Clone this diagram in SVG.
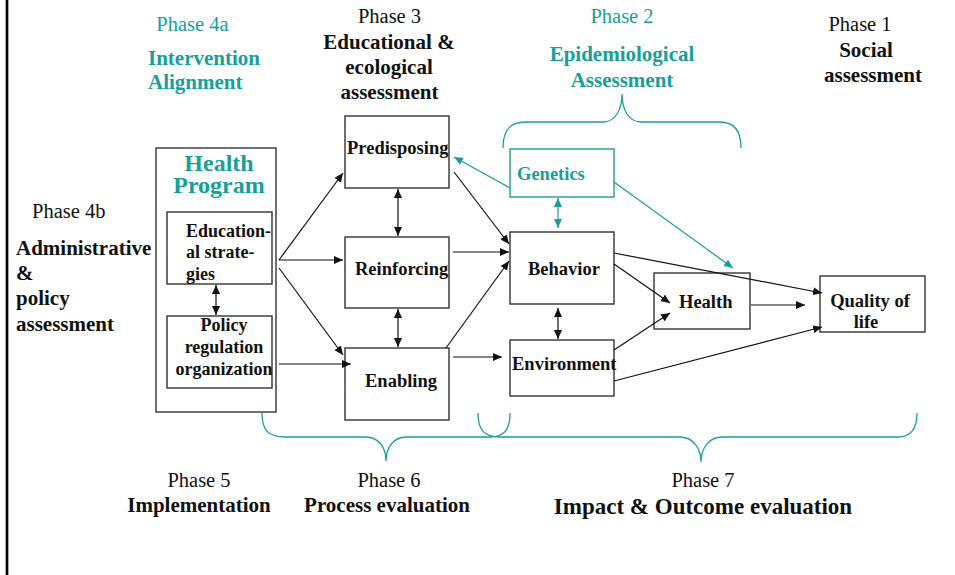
<svg xmlns="http://www.w3.org/2000/svg" width="955" height="575" viewBox="0 0 955 575">
<defs>
<style>
.t{font-family:"Liberation Serif","Times New Roman",serif;fill:#111}
.b{font-weight:bold}
.tl{fill:#17a09b}
.ph{font-size:20.5px}
.hd{font-size:21px;font-weight:bold}
.bx{font-size:18.5px;font-weight:bold}
.box{fill:#fff;stroke:#333;stroke-width:1.4}
.tbox{fill:#fff;stroke:#17a09b;stroke-width:1.4}
.e{stroke:#111;stroke-width:1.2;fill:none;marker-end:url(#ah)}
.d{stroke:#111;stroke-width:1.2;fill:none;marker-start:url(#ah);marker-end:url(#ah)}
.et{stroke:#17a09b;stroke-width:1.2;fill:none;marker-end:url(#aht)}
.dt{stroke:#17a09b;stroke-width:1.2;fill:none;marker-start:url(#aht);marker-end:url(#aht)}
.br{stroke:#17a09b;stroke-width:1.3;fill:none}
</style>
<marker id="ah" markerUnits="userSpaceOnUse" markerWidth="10" markerHeight="8" refX="9" refY="4" orient="auto-start-reverse" viewBox="0 0 10 8"><path d="M0,0 L9,4 L0,8 z" fill="#111"/></marker>
<marker id="aht" markerUnits="userSpaceOnUse" markerWidth="10" markerHeight="8" refX="9" refY="4" orient="auto-start-reverse" viewBox="0 0 10 8"><path d="M0,0 L9,4 L0,8 z" fill="#17a09b"/></marker>
</defs>
<rect width="955" height="575" fill="#fff"/>
<line x1="7" y1="0" x2="7" y2="575" stroke="#000" stroke-width="2.7"/>

<g id="labels">
<text class="t tl ph" x="192.5" y="31" text-anchor="middle">Phase 4a</text>
<text class="t tl hd" x="148" y="65">Intervention</text>
<text class="t tl hd" x="148" y="89">Alignment</text>
<text class="t ph" x="389.5" y="23" text-anchor="middle">Phase 3</text>
<text class="t hd" x="389" y="49" text-anchor="middle">Educational &amp;</text>
<text class="t hd" x="389" y="74" text-anchor="middle">ecological</text>
<text class="t hd" x="389.5" y="99" text-anchor="middle">assessment</text>
<text class="t tl ph" x="622" y="23" text-anchor="middle">Phase 2</text>
<text class="t tl hd" x="622" y="61" text-anchor="middle">Epidemiological</text>
<text class="t tl hd" x="622" y="87" text-anchor="middle">Assessment</text>
<text class="t ph" x="860" y="31" text-anchor="middle">Phase 1</text>
<text class="t hd" x="866" y="57" text-anchor="middle">Social</text>
<text class="t hd" x="873" y="82" text-anchor="middle">assessment</text>
<text class="t ph" x="32" y="218">Phase 4b</text>
<text class="t hd" x="16" y="255">Administrative</text>
<text class="t hd" x="16" y="280">&amp;</text>
<text class="t hd" x="16" y="305">policy</text>
<text class="t hd" x="16" y="331">assessment</text>
<text class="t ph" x="199" y="487" text-anchor="middle">Phase 5</text>
<text class="t hd" x="199" y="512" text-anchor="middle">Implementation</text>
<text class="t ph" x="389" y="487" text-anchor="middle">Phase 6</text>
<text class="t hd" x="387" y="512" text-anchor="middle">Process evaluation</text>
<text class="t ph" x="703" y="487" text-anchor="middle">Phase 7</text>
<text class="t b" style="font-size:23px" x="703" y="514" text-anchor="middle">Impact &amp; Outcome evaluation</text>
</g>

<g id="braces">
<path class="br" d="M503,148 C503,130 510,122 525,122 L603,122 C615,122 622,110 622,94 C622,110 629,122 641,122 L720,122 C734,122 741,130 741,148"/>
<path class="br" d="M262,413 C262,430 268,437 285,437 L366,437 C378,437 386,447 386,461 C386,447 394,437 406,437 L490,437 C504,437 510,430 510,413"/>
<path class="br" d="M478,413 C478,430 484,437 500,437 L680,437 C692,437 701,447 701,462 C701,447 710,437 722,437 L898,437 C912,437 917,428 917,413"/>
</g>

<g id="health-program">
<rect class="box" x="156" y="148" width="120" height="264"/>
<text class="t tl b" style="font-size:24px" x="219" y="171" text-anchor="middle">Health</text>
<text class="t tl b" style="font-size:24px" x="219" y="193" text-anchor="middle">Program</text>
</g>
<g id="educational-strategies">
<rect class="box" x="167" y="212" width="105" height="72"/>
<text class="t b" style="font-size:18px" x="186" y="237">Education-</text>
<text class="t b" style="font-size:18px" x="186" y="258">al strate-</text>
<text class="t b" style="font-size:18px" x="186" y="280">gies</text>
</g>
<g id="policy">
<rect class="box" x="167" y="316" width="105" height="72"/>
<text class="t b" style="font-size:18px" x="224" y="331" text-anchor="middle">Policy</text>
<text class="t b" style="font-size:18px" x="224" y="353" text-anchor="middle">regulation</text>
<text class="t b" style="font-size:18px" x="224" y="375" text-anchor="middle">organization</text>
</g>
<g id="predisposing">
<rect class="box" x="345" y="116" width="104" height="72"/>
<text class="t bx" x="347" y="154">Predisposing</text>
</g>
<g id="reinforcing">
<rect class="box" x="345" y="237" width="104" height="71"/>
<text class="t bx" x="355" y="275">Reinforcing</text>
</g>
<g id="enabling">
<rect class="box" x="345" y="348" width="104" height="72"/>
<text class="t bx" x="365" y="387">Enabling</text>
</g>
<g id="genetics">
<rect class="tbox" x="510" y="149" width="104" height="48"/>
<text class="t tl bx" x="517" y="180">Genetics</text>
</g>
<g id="behavior">
<rect class="box" x="510" y="232" width="104" height="72"/>
<text class="t bx" x="528" y="275">Behavior</text>
</g>
<g id="environment">
<rect class="box" x="510" y="340" width="104" height="56"/>
<text class="t bx" x="512" y="370">Environment</text>
</g>
<g id="health">
<rect class="box" x="654" y="273" width="96" height="56"/>
<text class="t bx" x="679" y="308">Health</text>
</g>
<g id="quality-of-life">
<rect class="box" x="820" y="276" width="105" height="56"/>
<text class="t bx" x="870" y="307" text-anchor="middle">Quality of</text>
<text class="t bx" x="866" y="328" text-anchor="middle">life</text>
</g>

<g id="connectors">
<line class="d" x1="216" y1="285" x2="216" y2="315"/>
<line class="e" x1="279" y1="260" x2="343" y2="173"/>
<line class="e" x1="279" y1="260" x2="343" y2="260"/>
<line class="e" x1="279" y1="268" x2="343" y2="355"/>
<line class="e" x1="279" y1="364" x2="351" y2="364"/>
<line class="d" x1="398" y1="189" x2="398" y2="236"/>
<line class="d" x1="398" y1="309" x2="398" y2="347"/>
<line class="e" x1="454" y1="172" x2="509" y2="244"/>
<line class="e" x1="453" y1="252" x2="509" y2="252"/>
<line class="e" x1="446" y1="348" x2="509" y2="261"/>
<line class="e" x1="453" y1="357" x2="502" y2="357"/>
<line class="et" x1="510" y1="188" x2="454" y2="157"/>
<line class="et" x1="614" y1="182" x2="733" y2="268"/>
<line class="dt" x1="558" y1="198" x2="558" y2="228"/>
<line class="d" x1="558" y1="308" x2="558" y2="339"/>
<line class="e" x1="614" y1="253" x2="822" y2="293"/>
<line class="e" x1="614" y1="264" x2="670" y2="303"/>
<line class="e" x1="614" y1="350" x2="670" y2="313"/>
<line class="e" x1="751" y1="305" x2="805" y2="305"/>
<line class="e" x1="614" y1="381" x2="822" y2="327"/>
</g>
</svg>
